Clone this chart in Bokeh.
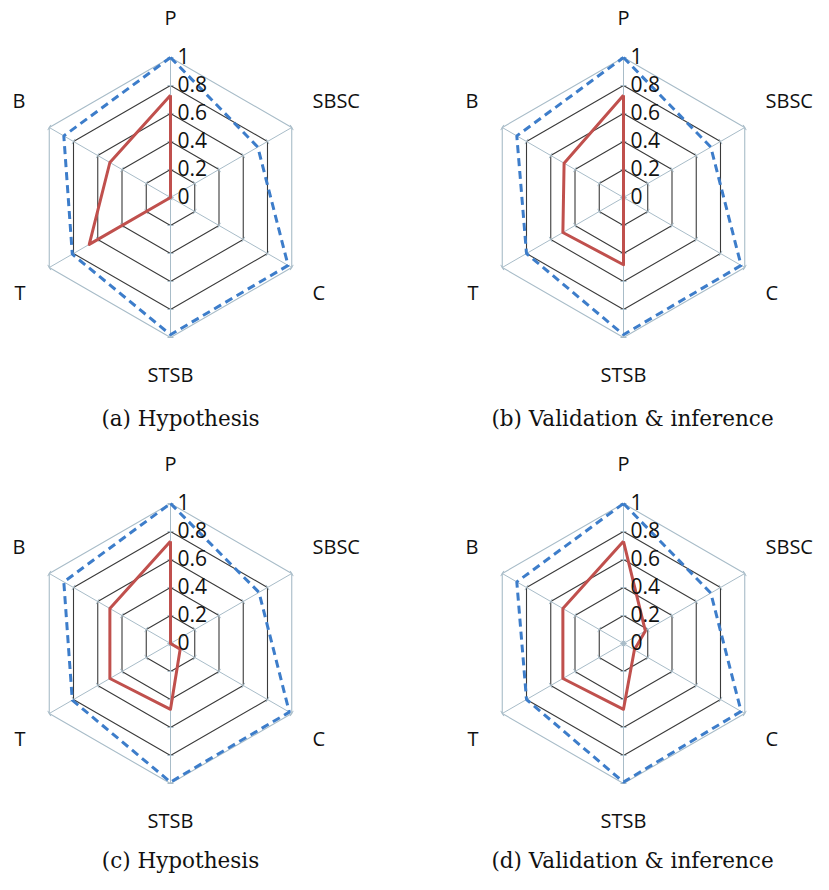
import numpy as np
from bokeh.plotting import figure
from bokeh.models import Range1d
from bokeh.core.properties import value
from bokeh.embed import file_html
from bokeh.resources import INLINE

# ---- data ----
categories = ["P", "SBSC", "C", "STSB", "T", "B"]
ring_levels = [0.2, 0.4, 0.6, 0.8, 1.0]
tick_values = [0.0, 0.2, 0.4, 0.6, 0.8, 1.0]
tick_labels = ["0", "0.2", "0.4", "0.6", "0.8", "1"]

red_a = [0.73, 0.0, 0.0, 0.0, 0.67, 0.50]
blue_a = [1.0, 0.72, 0.97, 0.98, 0.81, 0.88]
red_b = [0.73, 0.0, 0.0, 0.48, 0.50, 0.49]
blue_b = [1.0, 0.72, 0.97, 0.98, 0.80, 0.88]
red_c = [0.73, 0.0, 0.08, 0.47, 0.50, 0.50]
blue_c = [1.0, 0.73, 0.98, 0.99, 0.81, 0.88]
red_d = [0.73, 0.18, 0.09, 0.47, 0.50, 0.50]
blue_d = [1.0, 0.72, 0.97, 0.99, 0.80, 0.88]

captions = ["(a) Hypothesis", "(b) Validation & inference",
            "(c) Hypothesis", "(d) Validation & inference"]

# ---- layout / style ----
W, H = 813, 874
angles = np.deg2rad([90, 30, -30, -90, -150, 150])
R = 140.0
col_x = [170, 623]
row_y = [197, 643]
cap_x = [180, 632]
cap_mid = [418, 860]
centers = [(col_x[0], row_y[0]), (col_x[1], row_y[0]),
           (col_x[0], row_y[1]), (col_x[1], row_y[1])]
caption_pos = [(cap_x[0], cap_mid[0]), (cap_x[1], cap_mid[0]),
               (cap_x[0], cap_mid[1]), (cap_x[1], cap_mid[1])]
label_font = value("Open Sans")
RED = "#C0504D"
BLUE = "#3D7DCA"
GRID_LIGHT = "#A8BCC8"
GRID_DARK = "#3a3a3a"
TEXT = "#111111"

p = figure(width=W, height=H, output_backend="svg", toolbar_location=None,
           x_range=Range1d(0, W), y_range=Range1d(H, 0),
           min_border=0)
p.axis.visible = False
p.grid.visible = False
p.outline_line_color = None
p.background_fill_color = "white"


def pts(cx, cy, vals):
    v = np.asarray(vals, dtype=float)
    xs = cx + R * v * np.cos(angles)
    ys = cy - R * v * np.sin(angles)
    return list(xs) + [xs[0]], list(ys) + [ys[0]]


series = [(red_a, blue_a), (red_b, blue_b), (red_c, blue_c), (red_d, blue_d)]

for (cx, cy), (red, blue), cap, (capx, capy) in zip(centers, series, captions, caption_pos):
    # rings
    for lv in ring_levels:
        xs, ys = pts(cx, cy, [lv] * 6)
        col = GRID_LIGHT if lv == 1.0 else GRID_DARK
        p.line(xs, ys, line_color=col, line_width=1.1)
    # spokes
    ex = list(cx + R * np.cos(angles))
    ey = list(cy - R * np.sin(angles))
    p.segment([cx] * 6, [cy] * 6, ex, ey, line_color=GRID_LIGHT, line_width=1)
    # small tick marks on the spokes
    tx0, ty0, tx1, ty1 = [], [], [], []
    for a in angles:
        px_, py_ = -np.sin(a), -np.cos(a)
        for lv in tick_values:
            bx = cx + R * lv * np.cos(a)
            by = cy - R * lv * np.sin(a)
            tx0.append(bx - 3 * px_); ty0.append(by - 3 * py_)
            tx1.append(bx + 3 * px_); ty1.append(by + 3 * py_)
    p.segment(tx0, ty0, tx1, ty1, line_color=GRID_LIGHT, line_width=1)

    # series
    xs, ys = pts(cx, cy, blue)
    p.line(xs, ys, line_color=BLUE, line_width=3, line_dash="8 5")
    xs, ys = pts(cx, cy, red)
    p.line(xs, ys, line_color=RED, line_width=3, line_join="round")

    # tick labels
    p.text(x=[cx + 7] * len(tick_values), y=[cy - R * v - 2 for v in tick_values],
           text=tick_labels, text_font=label_font, text_font_size="21px",
           text_align="left", text_baseline="middle", text_color=TEXT)

    # category labels
    lx = [cx, cx + 142, cx + 142, cx, cx - 145, cx - 145]
    ly = [cy - 180, cy - 97, cy + 95, cy + 177, cy + 95, cy - 97]
    la = ["center", "left", "left", "center", "right", "right"]
    for t, x, y, al in zip(categories, lx, ly, la):
        p.text(x=[x], y=[y], text=[t], text_font=label_font, text_font_size="20px",
               text_align=al, text_baseline="middle", text_color=TEXT)

    # caption
    p.text(x=[capx], y=[capy], text=[cap], text_font=value("DejaVu Serif"),
           text_font_size="21.5px", text_align="center", text_baseline="middle",
           text_color=TEXT)

open("out.html", "w").write(file_html(p, INLINE))
